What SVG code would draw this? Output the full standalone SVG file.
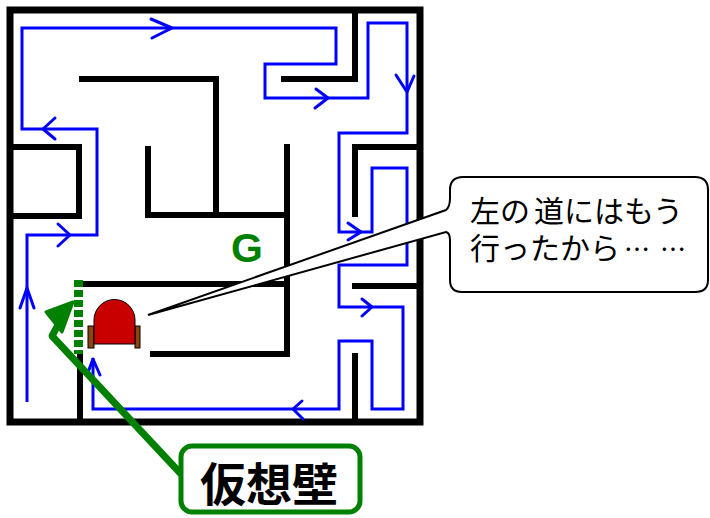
<svg xmlns="http://www.w3.org/2000/svg" width="710" height="518" viewBox="0 0 710 518">
  <style>
    .wall { fill: none; stroke: #000; stroke-width: 6; stroke-linejoin: miter; }
    .route { fill: none; stroke: #0000ff; stroke-width: 3; stroke-linejoin: miter; }
    .tip { fill: none; stroke: #0000ff; stroke-width: 3; stroke-linecap: round; stroke-linejoin: round; }
    .jp { font-family: "Noto Sans CJK JP", "Noto Sans CJK SC", sans-serif; }
    .say { font-family: "Liberation Sans", "Noto Sans CJK JP", sans-serif; font-size: 30px; fill: #000; }
    .dots { font-family: "Noto Sans CJK JP", sans-serif; font-size: 26px; }
  </style>
  <rect width="710" height="518" fill="#fff"/>

  <!-- maze walls -->
  <g id="maze">
    <rect x="10" y="10" width="410" height="412" fill="none" stroke="#000" stroke-width="7"/>
    <polyline class="wall" points="355,10 355,79 281,79"/>
    <polyline class="wall" points="79,79 216,79 216,215"/>
    <polyline class="wall" points="148,146 148,215 287,215"/>
    <polyline class="wall" points="287,144 287,354 150,354"/>
    <line class="wall" x1="82" y1="284" x2="287" y2="284"/>
    <polyline class="wall" points="10,147 79,147 79,216 10,216"/>
    <polyline class="wall" points="420,147 355,147 355,217"/>
    <line class="wall" x1="352" y1="286" x2="420" y2="286"/>
    <line class="wall" x1="355" y1="353" x2="355" y2="422"/>
    <line class="wall" x1="80" y1="353" x2="80" y2="422"/>
  </g>

  <!-- virtual wall (dashed) -->
  <g id="virtual-wall">
    <line x1="78.5" y1="280" x2="78.5" y2="354" stroke="#008000" stroke-width="9" stroke-dasharray="7 3"/>
  </g>

  <!-- route taken by the robot -->
  <g id="route">
    <polyline class="route" points="27,402 27,235 97,235 97,129 22,129 22,28 336,28 336,64 265,64 265,98 368,98 368,23 407,23 407,133 339,133 339,232 372,232 372,168 407,168 407,265 339,265 339,307 403,307 403,409 372,409 372,341 339,341 339,409 93,409 93,358"/>
    <polyline class="tip" points="151,19 172,28 152,38"/>
    <polyline class="tip" points="55,118 43,129 55,139"/>
    <polyline class="tip" points="58,224 70,235 58,246"/>
    <polyline class="tip" points="20,308 27,288 34,308"/>
    <polyline class="tip" points="316,89 328,98 315,108"/>
    <polyline class="tip" points="396,75 407,92 414,76"/>
    <polyline class="tip" points="348,223 361,232 348,240"/>
    <polyline class="tip" points="362,299 372,307 362,316"/>
    <polyline class="tip" points="302,401 293,409 303,419"/>
    <polyline class="tip" points="87,375 93,359 100,375"/>
  </g>

  <!-- goal -->
  <g id="goal">
    <text x="231" y="262" font-family="Liberation Sans, Arial, sans-serif" font-weight="bold" font-size="41" fill="#008000">G</text>
  </g>

  <!-- robot -->
  <g id="robot" stroke="#000" stroke-width="1">
    <rect x="88" y="326" width="6" height="22" fill="#8b4513"/>
    <rect x="135" y="326" width="5" height="22" fill="#8b4513"/>
    <path d="M94,344 V320 A20.5,20.5 0 0 1 135,320 V344 Z" fill="#c80000"/>
  </g>

  <!-- speech bubble with its tail -->
  <g id="bubble">
    <path d="M148,315 L446,210 Q450,207 450,198 V190 Q450,177 463,177 H695 Q708,177 708,190 V280 Q708,292 695,292 H462 Q450,292 450,280 V240 Q450,233 446,232 Z" fill="#fff" stroke="#000" stroke-width="2"/>
    <text class="say" x="470" y="222"><tspan>左の</tspan><tspan dx="4">道にはもう</tspan></text>
    <text class="say" x="470" y="259"><tspan>行ったから</tspan><tspan class="dots" dx="4">…</tspan><tspan class="dots" dx="10">…</tspan></text>
  </g>

  <!-- pointer to the virtual wall -->
  <g id="connectors">
    <polyline points="182,475 52,336 64,314" fill="none" stroke="#008000" stroke-width="7" stroke-linejoin="round"/>
    <polygon points="73,302 46,312 62,332" fill="#008000" stroke="#008000" stroke-width="3" stroke-linejoin="round"/>
  </g>

  <!-- label -->
  <g id="label">
    <rect x="181" y="446" width="179" height="66" rx="11" fill="#fff" stroke="#008000" stroke-width="5"/>
    <text class="jp" x="269" y="501" font-size="46" font-weight="bold" text-anchor="middle" fill="#000">仮想壁</text>
  </g>
</svg>
